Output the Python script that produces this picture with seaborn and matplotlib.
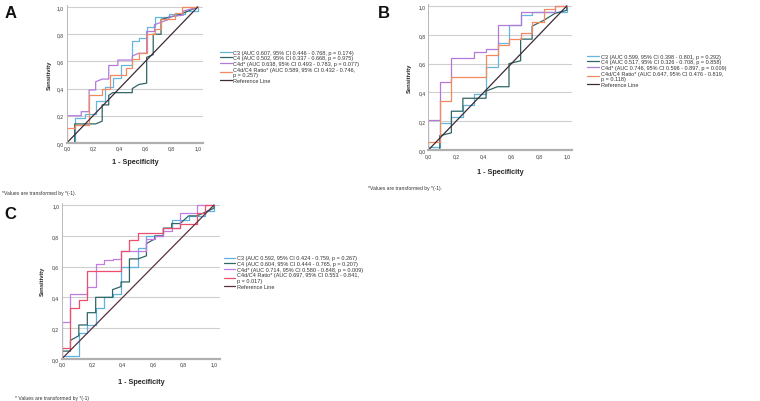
import numpy as np
import pandas as pd
import matplotlib
matplotlib.use("Agg")
import matplotlib.pyplot as plt
import seaborn as sns

sns.set_style("white")
plt.rcParams["font.family"] = ["Liberation Sans", "DejaVu Sans"]

# ---- data (1 - specificity, sensitivity) ----
# Panel A
a_c3_fpr = [0, 0.06, 0.06, 0.14, 0.14, 0.22, 0.22, 0.29, 0.29, 0.35, 0.35, 0.41, 0.41, 0.50, 0.50,
            0.55, 0.55, 0.61, 0.61, 0.67, 0.67, 0.78, 0.78, 0.90, 0.90, 1.0, 1.0]
a_c3_tpr = [0, 0, 0.18, 0.18, 0.21, 0.21, 0.31, 0.31, 0.41, 0.41, 0.48, 0.48, 0.57, 0.57, 0.75,
            0.75, 0.77, 0.77, 0.85, 0.85, 0.93, 0.93, 0.95, 0.95, 0.97, 0.97, 1.0]
a_c4_fpr = [0, 0.06, 0.06, 0.22, 0.27, 0.27, 0.32, 0.32, 0.35, 0.50, 0.50, 0.55, 0.61, 0.61,
            0.66, 0.66, 0.72, 0.72, 0.85, 1.0]
a_c4_tpr = [0, 0, 0.14, 0.14, 0.16, 0.28, 0.28, 0.35, 0.37, 0.37, 0.40, 0.43, 0.44, 0.63,
            0.65, 0.80, 0.80, 0.91, 0.94, 1.0]
a_c4d_fpr = [0, 0, 0.11, 0.11, 0.17, 0.17, 0.22, 0.22, 0.27, 0.32, 0.32, 0.39, 0.39, 0.50, 0.50,
             0.55, 0.61, 0.61, 0.67, 0.67, 0.78, 0.78, 0.89, 0.89, 1.0]
a_c4d_tpr = [0, 0.20, 0.20, 0.23, 0.23, 0.39, 0.39, 0.45, 0.47, 0.47, 0.57, 0.57, 0.61, 0.61, 0.64,
             0.66, 0.66, 0.82, 0.82, 0.87, 0.91, 0.93, 0.94, 0.97, 1.0]
a_ratio_fpr = [0, 0, 0.06, 0.06, 0.17, 0.17, 0.27, 0.27, 0.33, 0.33, 0.45, 0.45, 0.50, 0.50,
               0.55, 0.55, 0.61, 0.61, 0.67, 0.67, 0.72, 0.72, 0.83, 0.83, 0.88, 0.88, 1.0]
a_ratio_tpr = [0, 0.11, 0.11, 0.13, 0.13, 0.35, 0.35, 0.40, 0.40, 0.50, 0.50, 0.55, 0.55, 0.62,
               0.62, 0.66, 0.66, 0.80, 0.80, 0.84, 0.84, 0.91, 0.91, 0.96, 0.96, 1.0, 1.0]

# Panel B
b_c3_fpr = [0, 0, 0.083, 0.083, 0.167, 0.167, 0.25, 0.25, 0.333, 0.333, 0.417, 0.417, 0.5, 0.5,
            0.583, 0.583, 0.667, 0.667, 0.75, 0.75, 1.0, 1.0]
b_c3_tpr = [0, 0.02, 0.02, 0.19, 0.19, 0.23, 0.23, 0.31, 0.31, 0.39, 0.39, 0.58, 0.58, 0.74,
            0.74, 0.87, 0.87, 0.94, 0.94, 0.96, 0.96, 1.0]
b_c4_fpr = [0, 0.083, 0.083, 0.167, 0.167, 0.25, 0.25, 0.417, 0.417, 0.5, 0.583, 0.583, 0.667,
            0.667, 0.75, 0.75, 0.833, 0.917, 1.0, 1.0]
b_c4_tpr = [0, 0, 0.10, 0.12, 0.27, 0.27, 0.36, 0.36, 0.41, 0.44, 0.44, 0.60, 0.62,
            0.77, 0.77, 0.86, 0.90, 0.95, 0.97, 1.0]
b_c4d_fpr = [0, 0, 0.083, 0.083, 0.167, 0.167, 0.333, 0.333, 0.417, 0.417, 0.5, 0.5, 0.667,
             0.667, 0.917, 0.917, 1.0]
b_c4d_tpr = [0, 0.21, 0.21, 0.47, 0.47, 0.64, 0.64, 0.68, 0.68, 0.70, 0.70, 0.87, 0.87,
             0.955, 0.955, 1.0, 1.0]
b_ratio_fpr = [0, 0, 0.083, 0.083, 0.167, 0.167, 0.417, 0.417, 0.5, 0.5, 0.583, 0.583, 0.667,
               0.667, 0.75, 0.75, 0.833, 0.833, 0.917, 0.917, 1.0]
b_ratio_tpr = [0, 0.06, 0.06, 0.34, 0.34, 0.51, 0.51, 0.66, 0.66, 0.73, 0.73, 0.77, 0.77,
               0.81, 0.81, 0.89, 0.89, 0.98, 0.98, 1.0, 1.0]

# Panel C
c_c3_fpr = [0, 0, 0.111, 0.111, 0.167, 0.167, 0.222, 0.222, 0.278, 0.278, 0.333, 0.333, 0.389,
            0.389, 0.5, 0.5, 0.556, 0.556, 0.667, 0.667, 0.722, 0.722, 0.833, 0.833, 0.944,
            0.944, 1.0, 1.0]
c_c3_tpr = [0, 0.02, 0.02, 0.17, 0.17, 0.22, 0.22, 0.33, 0.33, 0.40, 0.40, 0.42, 0.42,
            0.60, 0.60, 0.72, 0.72, 0.80, 0.80, 0.85, 0.85, 0.90, 0.90, 0.93, 0.93,
            0.96, 0.96, 1.0]
c_c4_fpr = [0, 0, 0.056, 0.056, 0.111, 0.111, 0.167, 0.167, 0.222, 0.222, 0.333, 0.333, 0.389,
            0.389, 0.444, 0.444, 0.5, 0.556, 0.556, 0.611, 0.611, 0.667, 0.667, 0.722, 0.722,
            0.778, 0.833, 0.889, 1.0, 1.0]
c_c4_tpr = [0, 0.05, 0.05, 0.12, 0.15, 0.22, 0.22, 0.30, 0.30, 0.40, 0.40, 0.45, 0.47,
            0.50, 0.50, 0.65, 0.65, 0.67, 0.75, 0.78, 0.80, 0.80, 0.85, 0.85, 0.88,
            0.88, 0.93, 0.93, 0.98, 1.0]
c_c4d_fpr = [0, 0, 0.056, 0.056, 0.167, 0.167, 0.222, 0.222, 0.278, 0.278, 0.333, 0.333, 0.389,
             0.389, 0.556, 0.556, 0.611, 0.611, 0.667, 0.667, 0.722, 0.722, 0.778, 0.778,
             0.889, 0.889, 1.0]
c_c4d_tpr = [0, 0.24, 0.24, 0.42, 0.42, 0.47, 0.47, 0.62, 0.62, 0.64, 0.64, 0.65, 0.65,
             0.70, 0.70, 0.78, 0.78, 0.80, 0.80, 0.83, 0.83, 0.85, 0.85, 0.95,
             0.95, 1.0, 1.0]
c_ratio_fpr = [0, 0, 0.056, 0.056, 0.111, 0.111, 0.167, 0.167, 0.389, 0.389, 0.444, 0.444, 0.5,
               0.5, 0.667, 0.667, 0.778, 0.778, 0.889, 0.889, 0.944, 0.944, 1.0]
c_ratio_tpr = [0, 0.07, 0.07, 0.33, 0.33, 0.38, 0.38, 0.57, 0.57, 0.70, 0.70, 0.77, 0.77,
               0.82, 0.82, 0.85, 0.85, 0.88, 0.88, 0.95, 0.95, 1.0, 1.0]

ref_fpr = [0, 1]
ref_tpr = [0, 1]

tick_vals = [0, 0.2, 0.4, 0.6, 0.8, 1.0]
tick_labels = ["0,0", "0,2", "0,4", "0,6", "0,8", "1,0"]

labels_a = ["C3 (AUC 0.607, 95% CI 0.446 - 0.768, p = 0.174)",
            "C4 (AUC 0.502, 95% CI 0.337 - 0.668, p = 0.975)",
            "C4d* (AUC 0.638, 95% CI 0.493 - 0.783, p = 0.077)",
            "C4d/C4 Ratio* (AUC 0.589, 95% CI 0.432 - 0.746,\np = 0.257)",
            "Reference Line"]
labels_b = ["C3 (AUC 0.599, 95% CI 0.398 - 0.801, p = 0.292)",
            "C4 (AUC 0.517, 95% CI 0.326 - 0.708, p = 0.858)",
            "C4d* (AUC 0.746, 95% CI 0.596 - 0.897, p = 0.009)",
            "C4d/C4 Ratio* (AUC 0.647, 95% CI 0.476 - 0.819,\np = 0.118)",
            "Reference Line"]
labels_c = ["C3 (AUC 0.592, 95% CI 0.424 - 0.759, p = 0.267)",
            "C4 (AUC 0.604, 95% CI 0.444 - 0.765, p = 0.207)",
            "C4d* (AUC 0.714, 95% CI 0.580 - 0.848, p = 0.009)",
            "C4d/C4 Ratio* (AUC 0.697, 95% CI 0.553 - 0.841,\np = 0.017)",
            "Reference Line"]

colors_ab = ["#63b6de", "#2f6664", "#b27ad9", "#f2895f", "#3d2b38"]
colors_c = ["#5cb2e0", "#2f6664", "#c27be0", "#ec4f6b", "#5c2f40"]


def roc_frame(curves, labels):
    parts = []
    for (fpr, tpr), lab in zip(curves, labels):
        parts.append(pd.DataFrame({"fpr": fpr, "tpr": tpr, "curve": lab}))
    return pd.concat(parts, ignore_index=True)


panels = [
    dict(letter="A", rect=[0.088, 0.642, 0.179, 0.343], labels=labels_a, colors=colors_ab,
         curves=[(a_c3_fpr, a_c3_tpr), (a_c4_fpr, a_c4_tpr), (a_c4d_fpr, a_c4d_tpr),
                 (a_ratio_fpr, a_ratio_tpr), (ref_fpr, ref_tpr)],
         letter_xy=(0.006, 0.955), leg_xy=(0.290, 0.874), xlab_pad=5, ylab_pad=4,
         note="*Values are transformed by *(-1).", note_xy=(0.003, 0.515)),
    dict(letter="B", rect=[0.5635, 0.624, 0.1895, 0.364], labels=labels_b, colors=colors_ab,
         curves=[(b_c3_fpr, b_c3_tpr), (b_c4_fpr, b_c4_tpr), (b_c4d_fpr, b_c4d_tpr),
                 (b_ratio_fpr, b_ratio_tpr), (ref_fpr, ref_tpr)],
         letter_xy=(0.497, 0.955), leg_xy=(0.773, 0.864), xlab_pad=7, ylab_pad=5,
         note="*Values are transformed by *(-1).", note_xy=(0.484, 0.528)),
    dict(letter="C", rect=[0.0815, 0.105, 0.208, 0.388], labels=labels_c, colors=colors_c,
         curves=[(c_c3_fpr, c_c3_tpr), (c_c4_fpr, c_c4_tpr), (c_c4d_fpr, c_c4d_tpr),
                 (c_ratio_fpr, c_ratio_tpr), (ref_fpr, ref_tpr)],
         letter_xy=(0.006, 0.455), leg_xy=(0.295, 0.362), xlab_pad=8, ylab_pad=5,
         note="* Values are transformed by *(-1)", note_xy=(0.02, 0.006)),
]

fig = plt.figure(figsize=(7.6, 4.02), dpi=100)
fig.patch.set_facecolor("white")

for p in panels:
    ax = fig.add_axes(p["rect"])
    df = roc_frame(p["curves"], p["labels"])
    sns.lineplot(data=df, x="fpr", y="tpr", hue="curve", palette=p["colors"],
                 sort=False, estimator=None, linewidth=0.9, ax=ax)

    ax.set_xlim(0, 1.04)
    ax.set_ylim(0, 1.015)
    ax.set_xticks(tick_vals)
    ax.set_xticklabels(tick_labels)
    ax.set_yticks(tick_vals)
    ax.set_yticklabels(tick_labels)
    ax.tick_params(length=0, labelsize=3.6, pad=2, colors="#333333")
    for yv in tick_vals[1:]:
        ax.axhline(yv, color="#cfcfcf", linewidth=0.8, zorder=0)

    for side in ["top", "right"]:
        ax.spines[side].set_visible(False)
    ax.spines["left"].set_color("#b8b8b8")
    ax.spines["left"].set_linewidth(0.7)
    ax.spines["bottom"].set_color("#b0b0b0")
    ax.spines["bottom"].set_linewidth(1.6)

    ax.set_xlabel("1 - Specificity", fontsize=5.2, fontweight="bold", labelpad=p["xlab_pad"])
    ax.set_ylabel("Sensitivity", fontsize=4.2, fontweight="bold", labelpad=p["ylab_pad"])

    handles, labs = ax.get_legend_handles_labels()
    ax.get_legend().remove()
    ax.legend(handles, labs, loc="upper left", bbox_to_anchor=p["leg_xy"],
              bbox_transform=fig.transFigure, frameon=False, fontsize=4,
              handlelength=2.0, handletextpad=0.35, labelspacing=0.12,
              borderpad=0, borderaxespad=0, labelcolor="#333333")

    fig.text(p["letter_xy"][0], p["letter_xy"][1], p["letter"], fontsize=12,
             fontweight="bold", color="#111111")
    fig.text(p["note_xy"][0], p["note_xy"][1], p["note"], fontsize=3.6, color="#333333")

fig.savefig("out.png", dpi=100, facecolor="white")
